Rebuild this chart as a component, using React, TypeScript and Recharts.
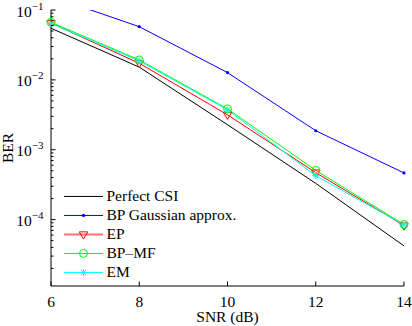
import { Label, Legend, Line, LineChart, XAxis, YAxis } from 'recharts';

const FONT = "'Liberation Serif', 'Times New Roman', serif";

// SNR points (dB)
const snr = [6, 8, 10, 12, 14];

// BER curves
const perfectCsi = [0.0548, 0.0152, 0.00228, 0.00033, 0.000042];
const bpGaussian = [0.157, 0.0577, 0.0127, 0.00187, 0.000465];
const ep = [0.065, 0.0173, 0.00316, 0.00047, 0.000082];
const bpMf = [0.0667, 0.0193, 0.00385, 0.000506, 0.000085];
const em = [0.064, 0.0187, 0.00373, 0.000425, 0.000084];

const seriesNames = ['Perfect CSI', 'BP Gaussian approx.', 'EP', 'BP\u2013MF', 'EM'];
const seriesKeys = ['perfect', 'bpg', 'ep', 'bpmf', 'em'];
const seriesColors = ['#000000', '#0000ff', '#ff0000', '#00ff00', '#00ffff'];

const xTicks = [6, 8, 10, 12, 14];
const yMajor = [1e-4, 1e-3, 1e-2, 1e-1];
const yDomain = [1.12e-5, 1e-1];

const yMinor: number[] = [];
[1e-5, 1e-4, 1e-3, 1e-2].forEach((d) => {
  [2, 3, 4, 5, 6, 7, 8, 9].forEach((m) => yMinor.push(m * d));
});

const data = snr.map((s, i) => ({
  snr: s,
  perfect: perfectCsi[i],
  bpg: bpGaussian[i],
  ep: ep[i],
  bpmf: bpMf[i],
  em: em[i],
}));

const isMajor = (v: number) => {
  const l = Math.log10(v);
  return Math.abs(l - Math.round(l)) < 1e-6;
};

const YTick = (props: any) => {
  const { x, y, payload } = props;
  const v = payload.value;
  const major = isMajor(v);
  const exp = Math.round(Math.log10(v));
  return (
    <g>
      <line x1={x} x2={x + (major ? 4.5 : 2.5)} y1={y} y2={y} stroke="#000" />
      {major && (
        <text x={x - 7.5} y={y + 6.5} textAnchor="end" fontFamily={FONT} fontSize={15.5} fill="#000">
          <tspan>10</tspan>
          <tspan dy={-7} fontSize={11}>{`\u2212${-exp}`}</tspan>
        </text>
      )}
    </g>
  );
};

const XTick = (props: any) => {
  const { x, y, payload } = props;
  return (
    <g>
      <line x1={x} x2={x} y1={y} y2={y - 4.5} stroke="#000" />
      <text x={x} y={y + 20.5} textAnchor="middle" fontFamily={FONT} fontSize={15.5} fill="#000">
        {payload.value}
      </text>
    </g>
  );
};

const Marker = ({ kind, cx, cy }: { kind: string; cx: number; cy: number }) => {
  if (kind === 'bpg') return <circle cx={cx} cy={cy} r={1.6} fill="#0000ff" stroke="none" />;
  if (kind === 'ep')
    return (
      <polygon
        points={`${cx - 4.2},${cy - 2.6} ${cx + 4.2},${cy - 2.6} ${cx},${cy + 4.6}`}
        fill="none"
        stroke="#ff0000"
      />
    );
  if (kind === 'bpmf') return <circle cx={cx} cy={cy} r={4} fill="none" stroke="#00ff00" />;
  if (kind === 'em') {
    const r = 3.5;
    const d = r * 0.707;
    return (
      <g stroke="#00ffff">
        <line x1={cx - r} x2={cx + r} y1={cy} y2={cy} />
        <line x1={cx} x2={cx} y1={cy - r} y2={cy + r} />
        <line x1={cx - d} x2={cx + d} y1={cy - d} y2={cy + d} />
        <line x1={cx - d} x2={cx + d} y1={cy + d} y2={cy - d} />
      </g>
    );
  }
  return null;
};

const makeDot = (kind: string) => (props: any) => {
  if (kind === 'perfect' || props.cx == null) return <g key={props.index} />;
  return (
    <g key={props.index}>
      <Marker kind={kind} cx={props.cx} cy={props.cy} />
    </g>
  );
};

const LegendBox = () => (
  <div style={{ fontFamily: FONT, fontSize: 15.5, color: '#000' }}>
    {seriesKeys.map((k, i) => (
      <div key={k} style={{ display: 'flex', alignItems: 'center', height: 18.9, whiteSpace: 'nowrap' }}>
        <svg width={42.5} height={18.9} style={{ display: 'block' }}>
          <line
            x1={0}
            x2={39}
            y1={9.45}
            y2={9.45}
            stroke={k === 'ep' ? '#ff7070' : seriesColors[i]}
            strokeWidth={k === 'ep' ? 2 : 1}
          />
          <Marker kind={k} cx={19.5} cy={9.45} />
        </svg>
        <span>{seriesNames[i]}</span>
      </div>
    ))}
  </div>
);

export default function App() {
  return (
    <div style={{ position: 'absolute', left: 0, top: 0, width: 412, height: 326, background: '#fff' }}>
      <LineChart
        width={412}
        height={326}
        data={data}
        margin={{ top: 10, right: 8, bottom: 0, left: 0 }}
        style={{ fontFamily: FONT }}
      >
        <XAxis
          dataKey="snr"
          type="number"
          domain={[6, 14]}
          ticks={xTicks}
          interval={0}
          height={40}
          tickSize={0}
          tickMargin={0}
          tickLine={false}
          tick={<XTick />}
          axisLine={{ stroke: '#000' }}
        >
          <Label
            content={(p: any) => {
              const vb = p.viewBox;
              return (
                <text
                  x={vb.x + vb.width / 2}
                  y={vb.y + 36}
                  textAnchor="middle"
                  fontFamily={FONT}
                  fontSize={15.5}
                  fill="#000"
                >
                  SNR (dB)
                </text>
              );
            }}
          />
        </XAxis>
        <YAxis
          type="number"
          scale="log"
          domain={yDomain}
          allowDataOverflow
          ticks={[...yMinor, ...yMajor]}
          interval={0}
          width={51}
          tickSize={0}
          tickMargin={0}
          tickLine={false}
          tick={<YTick />}
          axisLine={{ stroke: '#000' }}
        >
          <Label
            content={(p: any) => {
              const vb = p.viewBox;
              const cy = vb.y + vb.height / 2;
              return (
                <text
                  x={13}
                  y={cy}
                  transform={`rotate(-90, 13, ${cy})`}
                  textAnchor="middle"
                  fontFamily={FONT}
                  fontSize={15.5}
                  fill="#000"
                >
                  BER
                </text>
              );
            }}
          />
        </YAxis>
        <Legend
          layout="vertical"
          align="center"
          verticalAlign="middle"
          wrapperStyle={{ left: 64, top: 187, width: 'auto' }}
          content={() => <LegendBox />}
        />
        {seriesKeys.map((k, i) => (
          <Line
            key={k}
            dataKey={k}
            name={seriesNames[i]}
            type="linear"
            stroke={seriesColors[i]}
            strokeWidth={1}
            dot={makeDot(k)}
            activeDot={false}
            isAnimationActive={false}
          />
        ))}
      </LineChart>
    </div>
  );
}
